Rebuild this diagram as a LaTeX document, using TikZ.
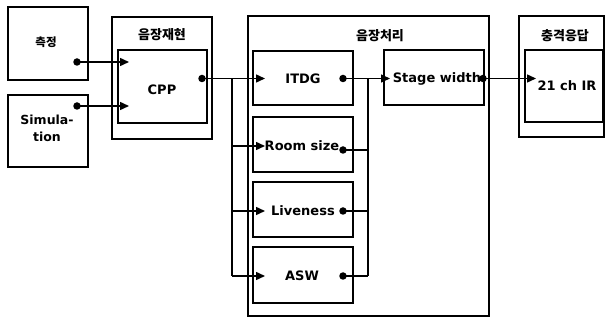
\documentclass[tikz,border=0pt]{standalone}
\usepackage{fontspec}
\setmainfont{DejaVu Sans}
\newfontfamily\kr{Noto Sans CJK KR}
\usetikzlibrary{arrows.meta}
\tikzset{
  box/.style={draw=black,line width=1.6pt,rectangle,inner sep=0pt},
  lbl/.style={font=\fontsize{13}{14}\selectfont\bfseries,inner sep=0pt,align=center},
  hdr/.style={font=\fontsize{13}{14}\selectfont\kr\bfseries,inner sep=0pt},
  wire/.style={line width=1.5pt},
  arr/.style={wire,-{Triangle[length=9pt,width=8pt]}},
  dotc/.style={fill=black,circle,inner sep=0pt,minimum size=7.5pt}
}
\begin{document}
\begin{tikzpicture}[x=1pt,y=-1pt]
\useasboundingbox (0,0) rectangle (608,320);
% left source boxes
\node[box,minimum width=80pt,minimum height=73pt] (meas) at (48,43.5) {};
\node[hdr,font=\fontsize{11.5}{12}\selectfont\kr\bfseries] (meastext) at (46,42) {측정};
\node[box,minimum width=80pt,minimum height=72pt] (sim) at (48,131) {};
\node[lbl,font=\fontsize{12.5}{17}\selectfont\bfseries] (simtext) at (47,128) {Simula-\\tion};
% reproduction
\node[box,minimum width=100pt,minimum height=122pt] (rep) at (162,78) {};
\node[hdr] (reptext) at (162,35) {음장재현};
\node[box,minimum width=89pt,minimum height=73pt] (cpp) at (162.5,86.5) {};
\node[lbl] (cpptext) at (162,90) {CPP};
% processing
\node[box,minimum width=241pt,minimum height=300pt] (proc) at (368.5,166) {};
\node[hdr] (proctext) at (380,36) {음장처리};
\node[box,minimum width=100pt,minimum height=54pt] (itdg) at (303,78) {};
\node[lbl] (itdgtext) at (303,79) {ITDG};
\node[box,minimum width=100pt,minimum height=55pt] (room) at (303,144.5) {};
\node[lbl] (roomtext) at (302,146) {Room size};
\node[box,minimum width=100pt,minimum height=55pt] (live) at (303,209.5) {};
\node[lbl] (livetext) at (303,211) {Liveness};
\node[box,minimum width=100pt,minimum height=56pt] (asw) at (303,275) {};
\node[lbl] (aswtext) at (302,276) {ASW};
\node[box,minimum width=100pt,minimum height=55pt] (stage) at (434,77.5) {};
\node[lbl] (stagetext) at (437,79) {Stage width};
% impulse response
\node[box,minimum width=85pt,minimum height=121pt] (imp) at (561.5,76.5) {};
\node[hdr] (imptext) at (565,36) {충격응답};
\node[box,minimum width=78pt,minimum height=72pt] (ir) at (564,86) {};
\node[lbl] (irtext) at (567,86) {21 ch IR};
% coordinates
\coordinate (d1) at (77,62);
\coordinate (a1) at (129,62);
\coordinate (d2) at (77,106);
\coordinate (a2) at (129,106);
\coordinate (dc) at (202,78.5);
\coordinate (bl1) at (232,78.5);
\coordinate (bl4) at (232,276);
\coordinate (ai) at (265,78.5);
\coordinate (ar) at (265,146);
\coordinate (al) at (265,211);
\coordinate (aa) at (265,276);
\coordinate (di) at (343,78.5);
\coordinate (dr) at (343,150);
\coordinate (dl) at (343,211);
\coordinate (da) at (343,276);
\coordinate (br1) at (368,78.5);
\coordinate (br4) at (368,276);
\coordinate (as) at (390,78.5);
\coordinate (ds) at (483,78.5);
\coordinate (aq) at (536,78.5);
% wires
\draw[arr] (d1) -- (a1);
\draw[arr] (d2) -- (a2);
\draw[arr] (dc) -- (ai);
\draw[wire] (bl1) -- (bl4);
\draw[arr] (232,146) -- (ar);
\draw[arr] (232,211) -- (al);
\draw[arr] (bl4) -- (aa);
\draw[wire] (br1) -- (br4);
\draw[wire] (dr) -- (368,150);
\draw[wire] (dl) -- (368,211);
\draw[wire] (da) -- (br4);
\draw[arr] (di) -- (as);
\draw[arr] (ds) -- (aq);
% dots
\foreach \p in {d1,d2,dc,di,dr,dl,da,ds} \node[dotc] at (\p) {};
\end{tikzpicture}
\end{document}
